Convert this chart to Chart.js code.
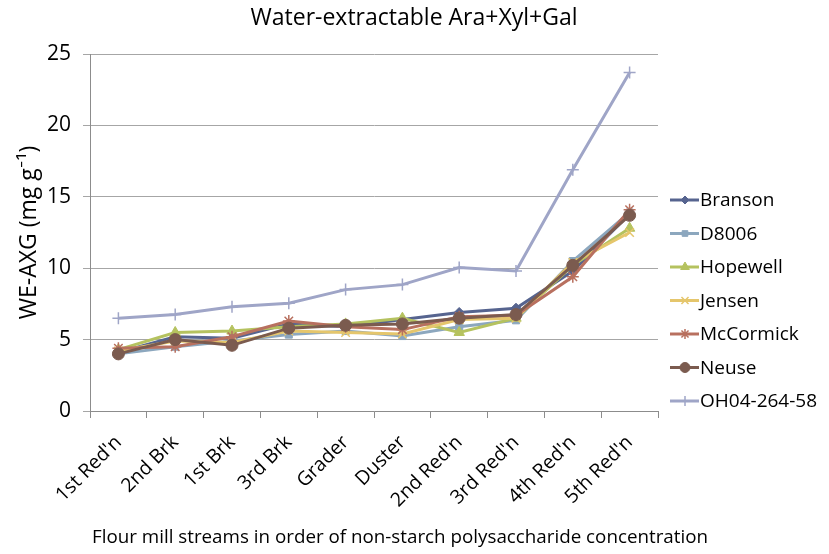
<!DOCTYPE html>
<html>
<head>
<meta charset="utf-8">
<script src="https://cdn.jsdelivr.net/npm/chart.js@4.4.1/dist/chart.umd.min.js"></script>
<style>
  html, body { margin: 0; padding: 0; background: #fff; }
  #wrap { width: 829px; height: 554px; position: relative; }
</style>
</head>
<body>
<div id="wrap"><canvas id="axgChart"></canvas></div>
<script>
const streams = ["1st Red'n", '2nd Brk', '1st Brk', '3rd Brk', 'Grader', 'Duster', "2nd Red'n", "3rd Red'n", "4th Red'n", "5th Red'n"];

const branson   = [4.1, 5.2, 5.1, 6.1, 5.9, 6.4, 6.9, 7.2, 9.8, 13.8];
const d8006     = [4.0, 4.5, 4.9, 5.35, 5.6, 5.25, 5.9, 6.35, 10.5, 13.9];
const hopewell  = [4.3, 5.5, 5.6, 5.9, 6.1, 6.5, 5.5, 6.5, 10.2, 12.8];
const jensen    = [4.2, 4.9, 4.8, 5.6, 5.5, 5.4, 6.4, 6.5, 10.4, 12.5];
const mccormick = [4.4, 4.5, 5.2, 6.3, 5.9, 5.7, 6.6, 6.7, 9.4, 14.1];
const neuse     = [4.0, 5.0, 4.6, 5.8, 6.0, 6.1, 6.5, 6.75, 10.2, 13.7];
const oh04      = [6.5, 6.75, 7.3, 7.55, 8.5, 8.85, 10.05, 9.8, 16.9, 23.7];

const yTicks = [0, 5, 10, 15, 20, 25];

const FONT = '"Open Sans", Lato, sans-serif';

const series = [
  { label: 'Branson', data: branson, color: '#56648f', point: 'rectRot', radius: 5 },
  { label: 'D8006', data: d8006, color: '#8ca7be', point: 'rect', radius: 5 },
  { label: 'Hopewell', data: hopewell, color: '#b5c25f', point: 'triangle', radius: 6 },
  { label: 'Jensen', data: jensen, color: '#e5c66c', point: 'crossRot', radius: 6 },
  { label: 'McCormick', data: mccormick, color: '#b8705f', point: 'star', radius: 6 },
  { label: 'Neuse', data: neuse, color: '#7b5b4f', point: 'circle', radius: 6 },
  { label: 'OH04-264-58', data: oh04, color: '#9fa5c7', point: 'cross', radius: 6 },
];

const datasets = series.map((s, i) => ({
  label: s.label,
  data: s.data,
  borderColor: s.color,
  backgroundColor: s.color,
  pointBackgroundColor: s.color,
  pointBorderColor: s.color,
  pointStyle: s.point,
  pointRadius: s.radius,
  pointBorderWidth: s.point === 'cross' || s.point === 'crossRot' || s.point === 'star' ? 1.5 : 1,
  borderWidth: 3,
  tension: 0,
  order: series.length - i,
}));

// chart title and x-axis title, both centred on the canvas rather than the plot
const textTitles = {
  id: 'textTitles',
  afterDraw(chart) {
    const ctx = chart.ctx;
    ctx.save();
    ctx.fillStyle = '#000';
    ctx.textAlign = 'center';
    ctx.textBaseline = 'middle';
    ctx.font = '23px ' + FONT;
    ctx.fillText('Water-extractable Ara+Xyl+Gal', 414, 18);
    ctx.font = '18.8px ' + FONT;
    ctx.fillText('Flour mill streams in order of non-starch polysaccharide concentration', 400, 538);
    ctx.restore();
  },
};

// legend drawn to the right of the plot, line + marker like the original
const sideLegend = {
  id: 'sideLegend',
  afterDraw(chart) {
    const ctx = chart.ctx;
    const x0 = 670;
    let y = 200;
    ctx.save();
    chart.data.datasets.forEach((ds) => {
      ctx.strokeStyle = ds.borderColor;
      ctx.lineWidth = 3;
      ctx.beginPath();
      ctx.moveTo(x0, y);
      ctx.lineTo(x0 + 29, y);
      ctx.stroke();
      ctx.fillStyle = ds.borderColor;
      ctx.lineWidth = ds.pointBorderWidth;
      Chart.helpers.drawPoint(ctx, { pointStyle: ds.pointStyle, radius: ds.pointRadius - 1, borderWidth: ds.pointBorderWidth }, x0 + 15, y);
      ctx.fillStyle = '#000';
      ctx.font = '19px ' + FONT;
      ctx.textBaseline = 'middle';
      ctx.textAlign = 'left';
      ctx.fillText(ds.label, x0 + 30, y + 1);
      y += 33.5;
    });
    ctx.restore();
  },
};

new Chart(document.getElementById('axgChart').getContext('2d'), {
  type: 'line',
  data: { labels: streams, datasets },
  options: {
    responsive: true,
    maintainAspectRatio: false,
    animation: false,
    layout: { padding: { left: 6, right: 171, top: 54, bottom: 6 } },
    plugins: {
      legend: { display: false },
      tooltip: { enabled: false },
      title: { display: false },
    },
    scales: {
      x: {
        offset: true,
        grid: { display: true, drawOnChartArea: false, offset: true, tickLength: 7, color: '#8c8c8c' },
        border: { color: '#8c8c8c', width: 1 },
        ticks: {
          color: '#000',
          font: { family: FONT, size: 19.5 },
          maxRotation: 45,
          minRotation: 45,
          padding: 13,
        },
        afterFit: (scale) => { scale.height = 137; },
      },
      y: {
        min: 0,
        max: 25,
        afterBuildTicks: (scale) => { scale.ticks = yTicks.map((v) => ({ value: v })); },
        grid: { color: '#a6a6a6', tickLength: 7, lineWidth: 1 },
        border: { color: '#8c8c8c', width: 1 },
        ticks: {
          color: '#000',
          font: { family: FONT, size: 21 },
          padding: 12,
        },
        title: {
          display: true,
          text: 'WE-AXG (mg g\u207B\u00B9)',
          color: '#000',
          font: { family: FONT, size: 23 },
          padding: { top: 10, bottom: 0 },
        },
        afterFit: (scale) => { scale.width = 84; },
      },
    },
  },
  plugins: [textTitles, sideLegend],
});
</script>
</body>
</html>
